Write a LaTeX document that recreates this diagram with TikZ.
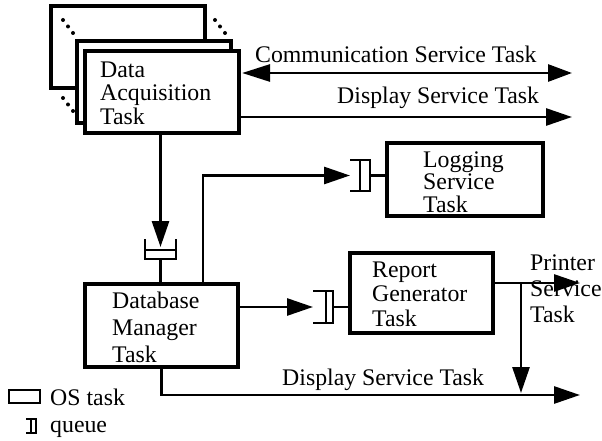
\documentclass[tikz,border=0pt]{standalone}
\usepackage{fontspec}
\setmainfont{Liberation Serif}
\usetikzlibrary{arrows.meta,calc}
% several text lines stacked with a given line distance, baseline on the first line
\newcommand\tlines[2]{{\fontsize{23.8}{#1}\selectfont\def\arraystretch{1}\begin{tabular}[t]{@{}l@{}}#2\end{tabular}}}
\begin{document}
\begin{tikzpicture}[x=1pt,y=-1pt,
  task/.style={draw,line width=3.2pt,fill=white,inner sep=0pt,line join=miter},
  conn/.style={line width=2.8pt,line join=miter},
  arr/.style={conn,-{Triangle[length=26pt,width=17pt]}},
  darr/.style={conn,{Triangle[length=28pt,width=17pt]}-{Triangle[length=24pt,width=17pt]}},
  qline/.style={line width=2.8pt,line join=miter},
  qspace/.style={inner sep=0pt,outer sep=0pt},
  lbl/.style={inner sep=0pt,anchor=base west,font=\fontsize{23.8}{28}\selectfont}]
\useasboundingbox (0,0) rectangle (602,441);

% stacked copies of the acquisition task
\node[task,minimum width=154pt,minimum height=82pt] (back) at (128,47) {};
\foreach \p in {(63,20),(68,26.5),(73,33),(215,20),(220,26.5),(225,33),(63,98),(68,104.5),(73,111)}
  \fill \p circle (2pt);
\node[task,minimum width=154pt,minimum height=82pt] (mid) at (154,82) {};
\node[task,minimum width=154pt,minimum height=82pt] (DA) at (162,92) {};
\node[lbl] (daText) at (100,78) {\tlines{23}{Data\\Acquisition\\Task}};

% service links of the acquisition task
\coordinate (commEnd) at (572,73);
\coordinate (dispEnd) at (572,117);
\draw[darr,shorten <=1.5pt] (DA.east |- commEnd) -- (commEnd);
\draw[arr] (DA.east |- dispEnd) -- (dispEnd);
\node[lbl] (commLbl) at (255,63) {Communication Service Task};
\node[lbl] (dispLbl) at (337,104) {Display Service Task};

% database manager and its input queue
\node[qspace,minimum width=31pt,minimum height=20pt] (qD) at (160.5,249) {};
\draw[qline] (qD.north west) -- (qD.south west) -- (qD.south east) -- (qD.north east);
\draw[qline] ($(qD.south west)+(0,-9)$) rectangle (qD.south east);
\node[task,minimum width=153pt,minimum height=83pt] (DB) at (161.5,325.5) {};
\node[lbl] (dbText) at (112,308) {\tlines{27}{Database\\Manager\\Task}};
\draw[arr] (DA.south -| qD.center) -- ($(qD.center)+(0,-2)$);
\draw[conn] (qD.south) -- (qD.south |- DB.north);

% logging service
\node[qspace,minimum width=20pt,minimum height=31pt] (qL) at (360,175.5) {};
\draw[qline] (qL.north west) -- (qL.north east) -- (qL.south east) -- (qL.south west);
\draw[qline] ($(qL.north east)+(-10,0)$) rectangle (qL.south east);
\node[task,minimum width=156pt,minimum height=73pt] (Log) at (465,179.5) {};
\node[lbl] (logText) at (423,167) {\tlines{21.5}{Logging\\Service\\Task}};
\draw[arr] ($(DB.north)+(41.5,0)$) |- (qL.west);
\draw[conn] (qL.east) -- (Log.west |- qL.east);

% report generator
\node[qspace,minimum width=20pt,minimum height=32pt] (qR) at (323,307) {};
\draw[qline] (qR.north west) -- (qR.north east) -- (qR.south east) -- (qR.south west);
\draw[qline] ($(qR.north east)+(-7,0)$) rectangle (qR.south east);
\node[task,minimum width=143pt,minimum height=80pt] (Rep) at (421.5,293) {};
\node[lbl] (repText) at (372,277) {\tlines{24.5}{Report\\Generator\\Task}};
\draw[arr] (DB.east |- qR.west) -- (qR.west);
\draw[conn] (qR.east) -- (Rep.west |- qR.east);

% printer and display outputs
\coordinate (prEnd) at (580,283);
\coordinate (split) at (521,283);
\coordinate (dsEnd) at (580,395);
\draw[arr] (Rep.east |- prEnd) -- (prEnd);
\draw[arr,shorten >=2pt] (split) -- (split |- dsEnd);
\draw[arr] (DB.south) |- (dsEnd);
\node[lbl] (prText) at (530,270) {\tlines{26}{Printer\\Service\\Task}};
\node[lbl] (dsText) at (282,385) {Display Service Task};

% legend
\node[draw,line width=2.8pt,minimum width=31pt,minimum height=13pt,inner sep=0pt] (legTask) at (24.5,396.5) {};
\node[lbl] (legTaskText) at (50,405) {OS task};
\node[qspace,minimum width=10pt,minimum height=14pt] (legQ) at (31,426) {};
\draw[qline] (legQ.north west) -- (legQ.north east) -- (legQ.south east) -- (legQ.south west);
\draw[qline] ($(legQ.north east)+(-5,0)$) rectangle (legQ.south east);
\node[lbl] (legQText) at (50,432) {queue};
\end{tikzpicture}
\end{document}
